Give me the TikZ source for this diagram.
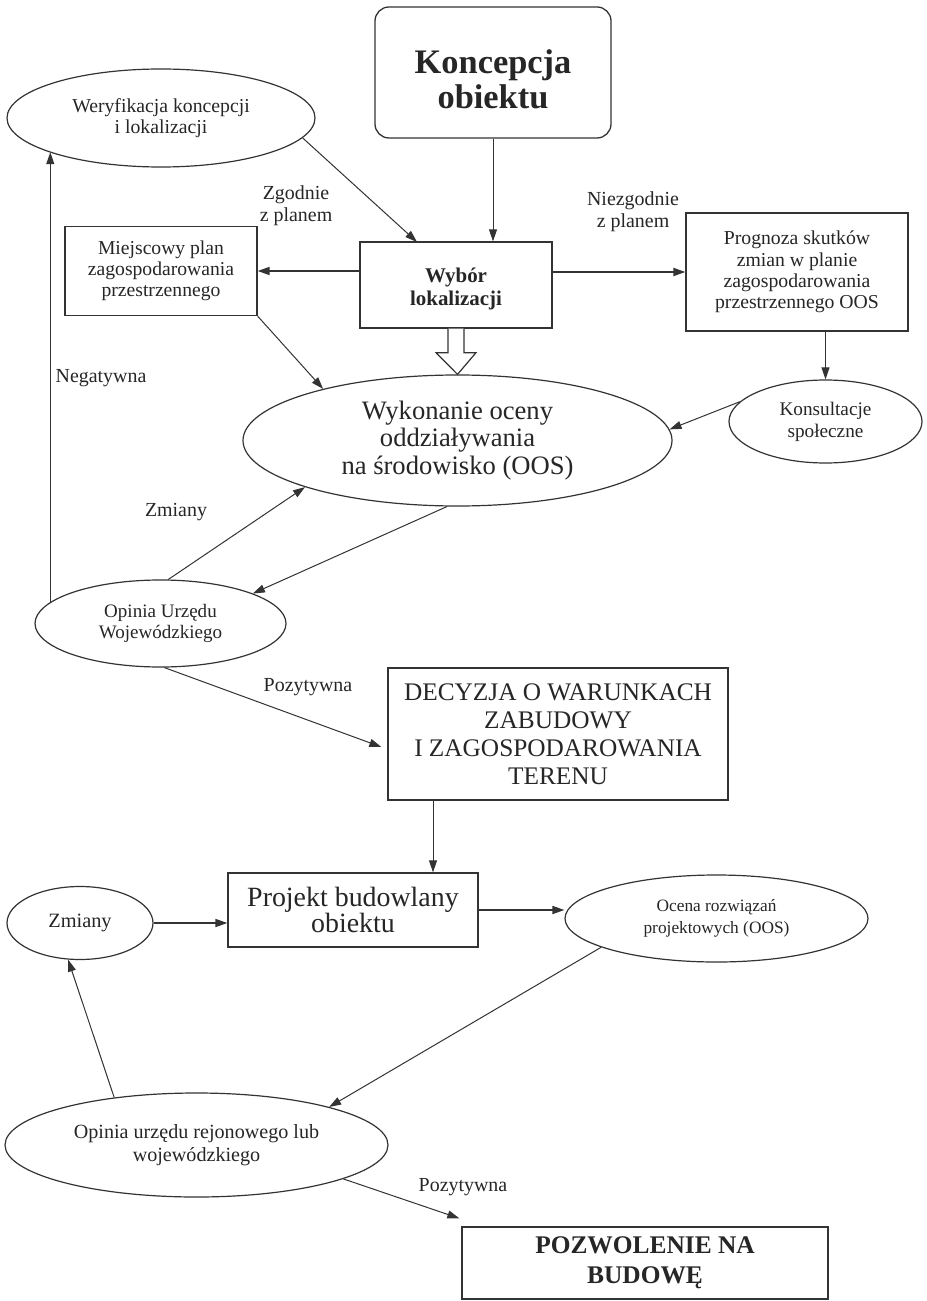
\documentclass[tikz,border=0pt]{standalone}
\usepackage{fontspec}
\setmainfont{Liberation Serif}
\usetikzlibrary{shapes.geometric,arrows.meta,calc}
\begin{document}
\begin{tikzpicture}[x=1bp,y=-1bp,
  every node/.style={text=black!85, align=center, inner sep=0pt},
  box/.style={draw=black!80, line width=1.3bp, rectangle},
  oval/.style={draw=black!80, line width=1.2bp, ellipse},
  arr/.style={draw=black!80, line width=1bp, -{Triangle[length=12bp,width=8bp]}},
  thickarr/.style={arr, line width=1.7bp},
  hollow/.style={draw=black!80, line width=1.2bp, fill=white},
  lbl/.style={font=\fontsize{20}{22}\selectfont},
]
\useasboundingbox[fill=white] (0,0) rectangle (926,1301);

% nodes
\node[box, rounded corners=14bp, minimum width=236bp, minimum height=131bp] (kon) at (493,72.5) {};
\node[font=\bfseries\fontsize{34.5}{35}\selectfont] (konT) at ([yshift=-7bp]kon.center) {Koncepcja\\obiektu};
\node[oval, minimum width=308bp, minimum height=98bp, font=\fontsize{19.8}{21}\selectfont] (wer) at (161,118) {Weryfikacja koncepcji\\i lokalizacji};
\node[box, minimum width=192bp, minimum height=89bp, font=\fontsize{19.7}{21}\selectfont] (mie) at (161,271) {Miejscowy plan\\zagospodarowania\\przestrzennego};
\node[box, minimum width=192bp, minimum height=86bp, font=\bfseries\fontsize{21}{23}\selectfont] (wyb) at (456,285) {\mbox{}\\Wybór\\lokalizacji};
\node[box, minimum width=222bp, minimum height=118bp, font=\fontsize{19.8}{21.5}\selectfont] (pro) at (797,272) {Prognoza skutków\\zmian w planie\\zagospodarowania\\przestrzennego OOS};
\node[oval, minimum width=193bp, minimum height=83bp, font=\fontsize{19.3}{22}\selectfont] (kons) at (825.5,421.5) {Konsultacje\\społeczne};
\node[oval, minimum width=429bp, minimum height=131bp, font=\fontsize{26.7}{28}\selectfont] (wyk) at (457.5,440.5) {Wykonanie oceny\\oddziaływania\\na środowisko (OOS)};
\node[oval, minimum width=251bp, minimum height=87bp, font=\fontsize{19.1}{21}\selectfont] (opu) at (160.5,623.5) {Opinia Urzędu\\Wojewódzkiego};
\node[box, minimum width=340bp, minimum height=132bp, font=\fontsize{25.4}{28}\selectfont] (dec) at (558,734) {DECYZJA O WARUNKACH\\ZABUDOWY\\I ZAGOSPODAROWANIA\\TERENU};
\node[oval, minimum width=146bp, minimum height=73bp, font=\fontsize{20.4}{22}\selectfont] (zmi) at (80,923) {Zmiany};
\node[box, minimum width=250bp, minimum height=74bp, font=\fontsize{28}{26}\selectfont] (prj) at (353,910) {Projekt budowlany\\obiektu};
\node[oval, minimum width=303bp, minimum height=87bp, font=\fontsize{17.4}{21.5}\selectfont] (oce) at (716.5,918.5) {Ocena rozwiązań\\projektowych (OOS)};
\node[oval, minimum width=383bp, minimum height=104bp, font=\fontsize{20.2}{23}\selectfont] (opr) at (196.5,1145) {Opinia urzędu rejonowego lub\\wojewódzkiego};
\node[box, minimum width=366bp, minimum height=72bp, font=\bfseries\fontsize{25.5}{30}\selectfont] (poz) at (645,1263) {POZWOLENIE NA\\BUDOWĘ};

% labels
\node[lbl] (l1) at (296,206) {Zgodnie\\z planem};
\node[lbl] (l2) at (633,212) {Niezgodnie\\z planem};
\node[lbl] (l3) at (101,378) {Negatywna};
\node[lbl] (l4) at (176,512) {Zmiany};
\node[lbl] (l5) at (308,687) {Pozytywna};
\node[lbl] (l6) at (463,1187) {Pozytywna};

% connectors
\coordinate (wybT) at (417,242);
\draw[arr] (wer.-8) -- (wybT);
\draw[arr] (kon.south) -- (kon.south |- wyb.north);
\draw[thickarr] (wyb.west |- mie.east) -- (mie.east);
\draw[thickarr] (wyb.east |- pro.west) -- (pro.west);
\draw[arr] (mie.south east) -- (wyk.159);
\draw[hollow] ([xshift=-8bp]wyb.south) -- ([xshift=-8bp,yshift=-24bp]wyb.south) -- ([xshift=-20bp,yshift=-24bp]wyb.south) -- (wyk.north) -- ([xshift=20bp,yshift=-24bp]wyb.south) -- ([xshift=8bp,yshift=-24bp]wyb.south) -- ([xshift=8bp]wyb.south);
\draw[arr] (kons.north |- pro.south) -- (kons.north);
\draw[arr] (kons.167) -- (wyk.3);
\draw[arr] (opu.80) -- (wyk.197);
\draw[arr] (wyk.-99) -- (opu.18);
\draw[arr] (opu.169) -- (opu.169 |- wer.197);
\draw[arr] (opu.-85) -- ([xshift=-6bp,yshift=-13bp]dec.west);
\coordinate (prjT) at ([xshift=80bp]prj.north);
\draw[arr] (dec.south -| prjT) -- (prjT);
\draw[thickarr] (zmi.east) -- (zmi.east -| prj.west);
\draw[thickarr] (prj.east) -- (prj.east -| oce.west);
\draw[arr] (oce.194) -- (opr.16);
\draw[arr] (opr.150) -- (zmi.252);
\coordinate (pozT) at ([xshift=-2bp,yshift=8bp]poz.north west);
\draw[arr] (opr.-13) -- (pozT);
\end{tikzpicture}
\end{document}
